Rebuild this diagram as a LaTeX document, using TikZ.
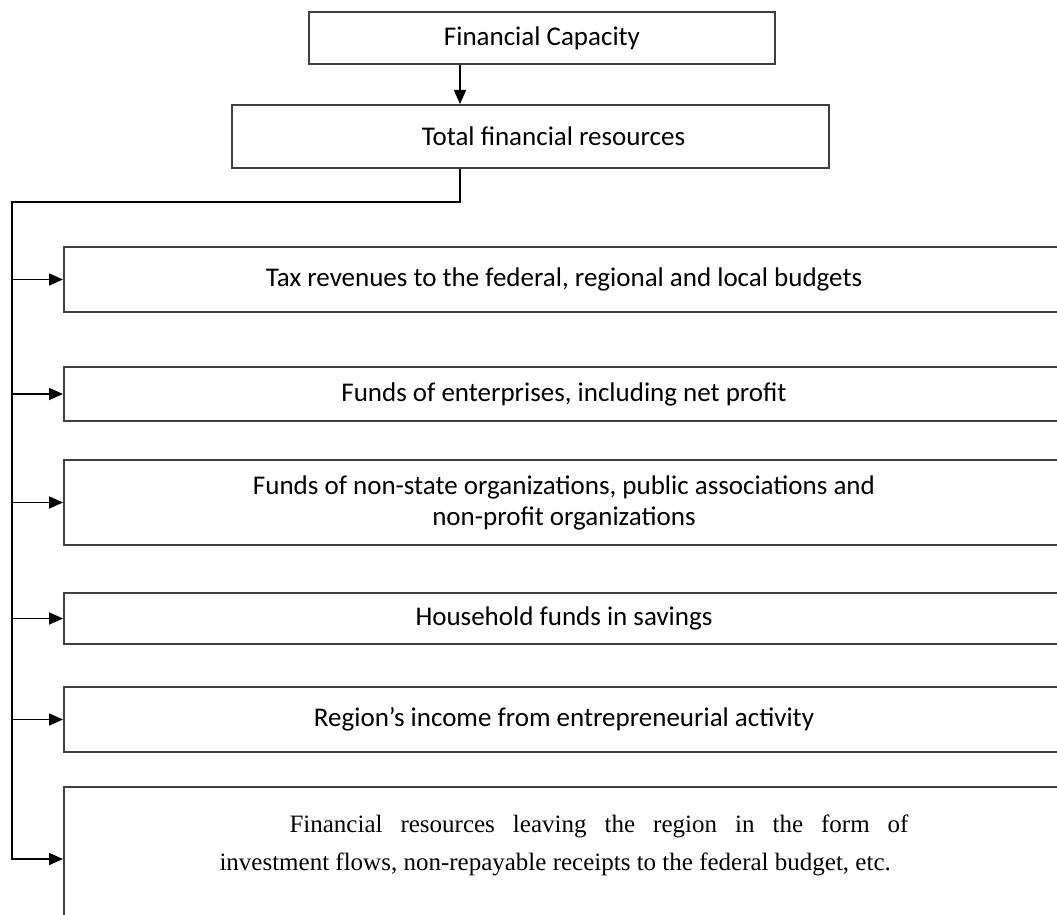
\documentclass[tikz,border=0pt]{standalone}
\usepackage{fontspec}
\setmainfont{Carlito}
\newfontfamily\bookfont{Liberation Serif}
\usetikzlibrary{calc,positioning}
\usetikzlibrary{arrows.meta}
\tikzset{>={Triangle[width=12pt,length=14pt]}}

\begin{document}
\begin{tikzpicture}[x=1pt, y=-1pt]
      \tikzstyle{tbox} = [draw=black!75, line width=2pt, rectangle, inner sep=0pt, align=center, font=\fontsize{27}{31}\selectfont]
      \tikzstyle{sbox} = [tbox, anchor=north west, minimum width=1000pt]
      \tikzstyle{link} = [line width=1.8pt, black]

      \useasboundingbox (0,0) rectangle (1057,915);
      \clip (0,0) rectangle (1057,915);

      %%%%%%%%%%%%%%%%%%%%%%%%%%%%%% 
      %% The two top boxes
      %%%%%%%%%%%%%%%%%%%%%%%%%%%%%% 
      \node[tbox, minimum width=466pt, minimum height=52pt] (cap) at (542,38) {Financial Capacity};
      \node[tbox, minimum width=597pt, minimum height=63pt] (tot) at (530.5,136.5) {\hspace*{46pt}Total financial resources};

      \coordinate (spine) at (460,0);
      \coordinate (elbow) at (12,202);

      %%%%%%%%%%%%%%%%%%%%%%%%%%%%%% 
      %% The sources
      %%%%%%%%%%%%%%%%%%%%%%%%%%%%%% 
      \node[sbox, minimum height=65pt] (b1) at (63,246) {Tax revenues to the federal, regional and local budgets};
      \node[sbox, minimum height=54pt] (b2) at (63,366) {Funds of enterprises, including net profit};
      \node[sbox, minimum height=85pt] (b3) at (63,459) {Funds of non-state organizations, public associations and\\ non-profit organizations};
      \node[sbox, minimum height=51pt] (b4) at (63,592) {Household funds in savings};
      \node[sbox, minimum height=65pt] (b5) at (63,686) {Region’s income from entrepreneurial activity};
      \node[sbox, minimum height=144pt] (b6) at (63,786)
        {\parbox[c][144pt][t]{689pt}{\bookfont\fontsize{25}{38}\selectfont\hyphenpenalty=10000 \exhyphenpenalty=10000 \tolerance=10000
         \vspace*{28pt}\hspace*{70pt}Financial resources leaving the region in the form of investment flows, non-repayable receipts to the federal budget, etc.}};

      % edges
      \draw[link, ->] (cap.south -| spine) -- (tot.north -| spine);
      \draw[link, ->] (tot.south -| spine) |- (elbow) |- (b6.west);
      \foreach \b in {b1,b2,b3,b4,b5}
        \draw[link, ->] (elbow |- \b.west) -- (\b.west);

\end{tikzpicture}
\end{document}
